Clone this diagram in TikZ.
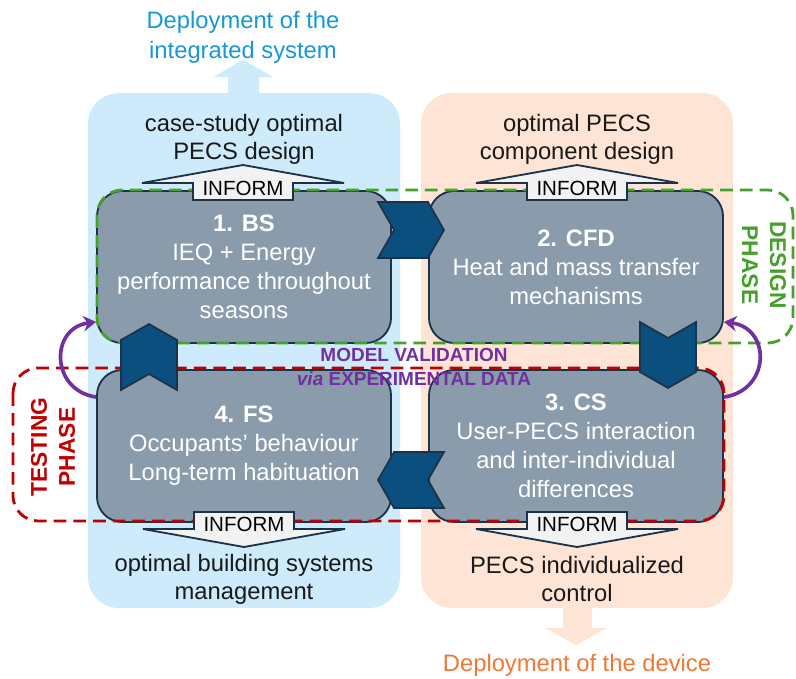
\documentclass[tikz,border=0pt]{standalone}
\usepackage{fontspec}
\setmainfont{Liberation Sans}
\usetikzlibrary{arrows.meta,positioning,calc}
\definecolor{bgblue}{RGB}{205,235,251}
\definecolor{bgorange}{RGB}{253,228,212}
\definecolor{boxgrey}{RGB}{138,156,172}
\definecolor{navy}{RGB}{28,50,72}
\definecolor{chevblue}{RGB}{11,79,127}
\definecolor{designgreen}{RGB}{70,160,45}
\definecolor{testred}{RGB}{192,0,0}
\definecolor{valpurple}{RGB}{112,48,160}
\definecolor{deplblue}{RGB}{20,152,214}
\definecolor{deplorange}{RGB}{240,120,50}

\begin{document}
\begin{tikzpicture}[x=0.025cm,y=-0.025cm,>=Stealth,
  stage/.style={draw=navy,line width=1.3pt,fill=boxgrey,rounded corners=18pt,minimum width=7.35cm,minimum height=3.8cm,align=center,text=white,font=\fontsize{16.9}{20.6}\selectfont},
  outcome/.style={align=center,text=black!90,font=\fontsize{16.9}{19.9}\selectfont},
  deploy/.style={align=center,font=\fontsize{16.9}{21.3}\selectfont},
  chev/.style={draw=navy,line width=1.2pt,fill=chevblue,line join=miter},
  inform/.style={draw=navy,line width=1.3pt,fill=black!5},
  infotxt/.style={inner sep=0pt,font=\fontsize{14.6}{15}\selectfont},
  phase/.style={dashed,line width=2pt,dash pattern=on 9pt off 5pt,rounded corners=18pt},
  phasetxt/.style={align=center,font=\bfseries\fontsize{16.2}{20}\selectfont},
  valid/.style={valpurple,line width=2.6pt,-{Stealth[length=9pt,width=11pt]}}]
\useasboundingbox (0,0) rectangle (796,678);

% backgrounds and deployment arrows
\fill[bgblue,rounded corners=22pt] (88,93) rectangle (400,608);
\fill[bgorange,rounded corners=22pt] (421,93) rectangle (733,608);
\fill[bgblue] (228,94) -- (228,77) -- (213,77) -- (243,60) -- (273,77) -- (259,77) -- (259,94) -- cycle;
\fill[bgorange] (563,607) -- (563,628) -- (545,628) -- (576,645) -- (607,628) -- (592,628) -- (592,607) -- cycle;

% the four studies
\node[stage] (bs) at (244,267) {\textbf{1. BS}\\IEQ + Energy\\performance throughout\\seasons};
\node[stage] (cfd) at (576,267) {\textbf{2. CFD}\\Heat and mass transfer\\mechanisms};
\node[stage] (cs) at (576,446) {\textbf{3. CS}\\User-PECS interaction\\and inter-individual\\differences};
\node[stage] (fs) at (244,446) {\textbf{4. FS}\\Occupants' behaviour\\Long-term habituation};

% phases
\draw[phase,designgreen] (97,190) rectangle (793,343);
\draw[phase,testred] (13,368) rectangle (724,521);

% inform arrows
\foreach \ax/\ay/\dir/\nm in {243/183/1/infbs,577/183/1/infcfd,244/529/-1/inffs,577/529/-1/infcs}
  \draw[inform,shift={(\ax,\ay)},yscale=\dir] (-50,17) -- (-50,0) -- (-101,0) -- (0,-18) -- (101,0) -- (50,0) -- (50,17) -- cycle
    node[infotxt] (\nm) at (0,5) {INFORM};

% chevrons between the studies
\foreach \cx/\cy/\ang in {411/230/0,668/355/-90,411/480/180,149/357/90}
  \draw[chev,shift={(\cx,\cy)},rotate=\ang] (-33,-28) -- (17,-28) -- (33,0) -- (17,28) -- (-33,28) -- (-17,0) -- cycle;

% model validation loops
\draw[valid] ([yshift=-0.7cm]fs.north west) .. controls (50,390) and (50,328) .. ([yshift=0.55cm]bs.south west);
\draw[valid] ([yshift=-0.7cm]cs.north east) .. controls (771,390) and (771,328) .. ([yshift=0.55cm]cfd.south east);

% labels
\node[deploy,text=deplblue] (sysgoal) at (243,37) {Deployment of the\\integrated system};
\node[deploy,text=deplorange] (devgoal) at (577,665) {Deployment of the device};
\node[outcome] (bsout) at (244,139) {case-study optimal\\PECS design};
\node[outcome] (cfdout) at (577,139) {optimal PECS\\component design};
\node[outcome] (fsout) at (244,579) {optimal building systems\\management};
\node[outcome] (csout) at (577,579) {PECS individualized\\control};
\node[phasetxt,text=designgreen,rotate=-90] (design) at (764,265) {DESIGN\\PHASE};
\node[phasetxt,text=testred,rotate=90] (testing) at (53,447) {TESTING\\PHASE};
\node[align=center,text=valpurple,font=\bfseries\fontsize{13.5}{17}\selectfont] (validation) at (414,367) {MODEL VALIDATION\\\textit{via} EXPERIMENTAL DATA};
\end{tikzpicture}
\end{document}
